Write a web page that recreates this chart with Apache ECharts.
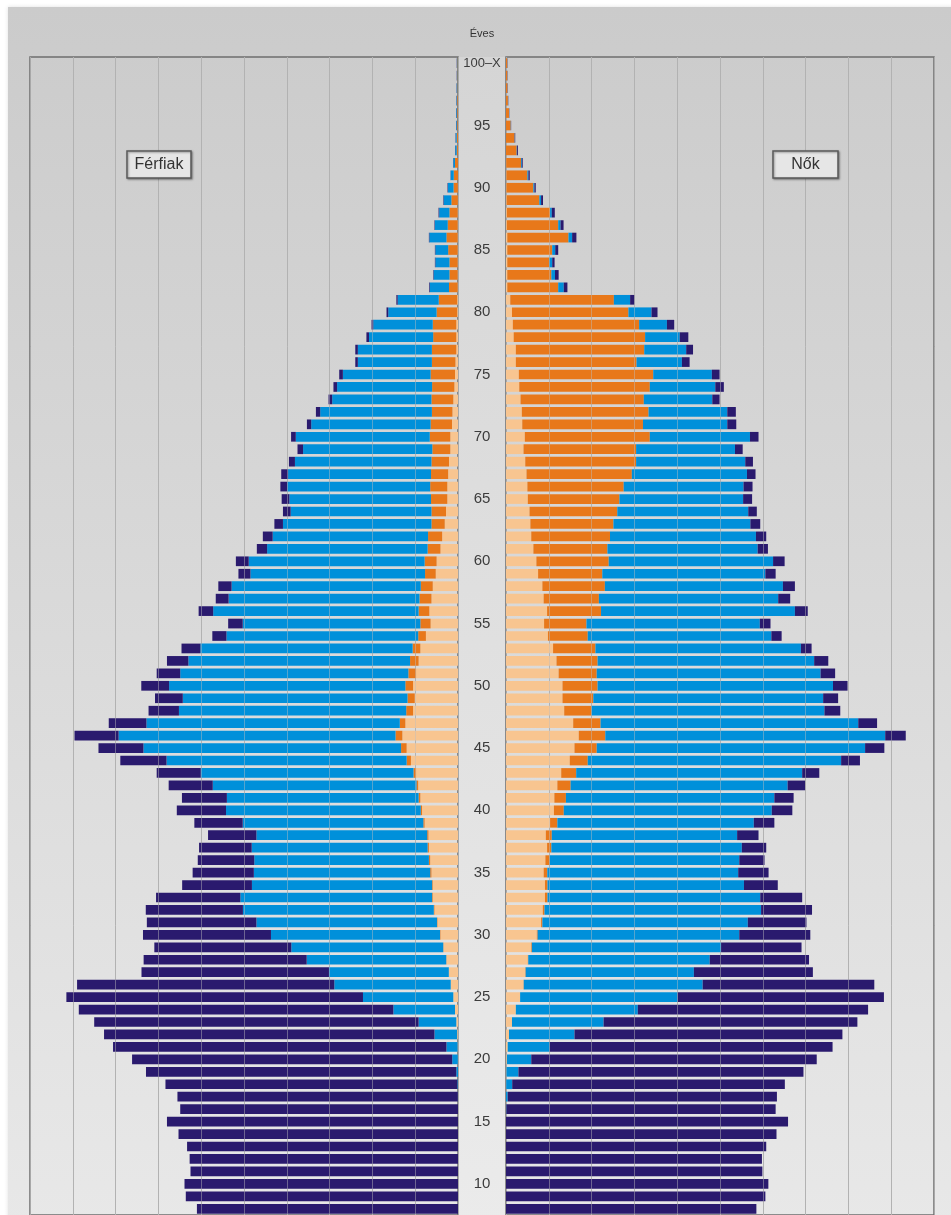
<!DOCTYPE html>
<html>
<head>
<meta charset="utf-8">
<script src="https://cdn.jsdelivr.net/npm/echarts@6/dist/echarts.min.js"></script>
<style>
html,body{margin:0;padding:0;background:#ffffff;overflow:hidden;}
#chart{width:951px;height:1215px;}
</style>
</head>
<body>
<div id="chart"></div>
<script>
// Age categories (bottom of picture is cropped at about age 8)
const ages = ['8','9','10','11','12','13','14','15','16','17',
 '18','19','20','21','22','23','24','25','26','27',
 '28','29','30','31','32','33','34','35','36','37',
 '38','39','40','41','42','43','44','45','46','47',
 '48','49','50','51','52','53','54','55','56','57',
 '58','59','60','61','62','63','64','65','66','67',
 '68','69','70','71','72','73','74','75','76','77',
 '78','79','80','81','82','83','84','85','86','87',
 '88','89','90','91','92','93','94','95','96','97',
 '98','99','100'];

// Férfiak (men), thousand persons, ages 8..100
const menDivorced = [0,0,0,0,0,0,0,0,0,0,
 0,0,0.05,0.1,0.2,0.4,0.7,1.1,1.7,2.1,
 2.7,3.4,4.1,4.8,5.5,5.9,5.9,6.2,6.5,6.8,
 6.9,7.8,8.4,8.8,9.3,9.8,11.0,12.0,13.0,12.3,
 10.5,10.1,10.5,9.8,9.2,8.8,7.5,6.4,6.7,6.2,
 5.9,5.2,5.0,4.1,3.7,3.1,2.8,2.5,2.5,2.3,
 2.1,1.8,1.8,1.4,1.3,1.1,0.85,0.7,0.6,0.4,
 0.4,0.4,0.2,0.2,0.1,0.1,0.1,0.1,0.1,0.1,
 0.1,0.05,0.05,0,0,0,0,0,0,0,
 0,0,0];
const menWidowed = [0,0,0,0,0,0,0,0,0,0,
 0,0,0,0,0,0,0,0,0,0.05,
 0.05,0.05,0.1,0.1,0.15,0.15,0.15,0.3,0.3,0.3,
 0.3,0.3,0.3,0.4,0.4,0.6,1.0,1.3,1.6,1.3,
 1.6,1.7,1.8,1.8,2.0,1.8,1.8,2.4,2.5,2.8,
 2.8,2.5,2.8,3.0,3.3,3.1,3.4,3.8,4.0,4.0,
 4.1,4.2,4.8,5.0,4.8,5.1,5.2,5.7,5.5,5.7,
 5.4,5.5,4.8,4.3,2.0,1.9,1.9,2.2,2.6,2.3,
 1.9,1.5,1.0,1.0,0.7,0.3,0.3,0.2,0.2,0.2,
 0.15,0.15,0.15];
const menMarried = [0,0,0,0,0,0,0,0,0,0.05,
 0.15,0.4,1.3,2.6,5.3,8.8,14.4,21.1,27.2,28.0,
 32.6,35.5,39.5,42.2,44.6,44.8,42.1,41.2,40.8,41.1,
 39.9,42.2,45.5,44.8,47.6,49.7,56.1,60.2,64.7,59.2,
 53.1,52.5,55.2,53.3,51.8,49.6,44.8,41.5,48.0,44.6,
 44.2,40.8,41.1,37.5,36.3,34.7,32.9,33.1,33.4,33.4,
 31.9,30.2,31.3,27.9,26.1,23.2,22.2,20.5,17.3,17.3,
 15.0,13.9,11.3,9.6,4.5,3.7,3.3,3.0,4.0,3.0,
 2.4,1.8,1.3,0.7,0.4,0.35,0.25,0.2,0.2,0.15,
 0.15,0.1,0.1];
const menSingle = [61.0,63.6,63.9,62.5,62.7,63.3,65.3,68.0,64.9,65.5,
 68.2,72.5,74.8,77.9,77.2,75.8,73.5,69.3,60.1,43.8,
 38.1,32.0,29.9,25.6,22.7,19.7,16.3,14.3,13.2,12.3,
 11.3,11.3,11.5,10.5,10.3,10.3,10.8,10.5,10.3,8.8,
 7.1,6.5,6.5,5.5,5.0,4.4,3.3,3.4,3.4,3.0,
 3.1,2.8,3.0,2.4,2.3,2.0,1.8,1.8,1.6,1.6,
 1.4,1.3,1.1,1.0,1.0,0.85,0.85,0.85,0.6,0.6,
 0.6,0.4,0.4,0.3,0.15,0.1,0.1,0.1,0.1,0.1,
 0.14,0.1,0.1,0.05,0.05,0.05,0.05,0.05,0.05,0.05,
 0.05,0.05,0.05];

// Nők (women), thousand persons, ages 8..100
const womenDivorced = [0,0,0,0,0,0,0,0,0,0,
 0.05,0.1,0.2,0.4,0.7,1.4,2.3,3.3,4.1,4.5,
 5.1,5.9,7.2,8.2,8.6,9.1,9.1,8.8,9.2,9.6,
 9.3,10.3,11.2,11.3,12.0,12.9,14.9,16.0,17.0,15.7,
 13.6,13.2,13.2,12.3,11.8,11.0,9.8,8.9,9.6,8.8,
 8.5,7.5,7.1,6.4,5.9,5.7,5.5,5.1,5.0,4.8,
 4.5,4.1,4.4,3.8,3.7,3.4,3.1,3.0,2.3,2.3,
 1.8,1.6,1.4,1.0,0.3,0.3,0.3,0.3,0.3,0.2,
 0.2,0.15,0.1,0.1,0.05,0,0,0,0,0,
 0,0,0];
const womenWidowed = [0,0,0,0,0,0,0,0,0,0,
 0,0,0,0,0,0,0,0,0.05,0.1,
 0.1,0.15,0.2,0.3,0.4,0.6,0.6,0.85,1.0,1.0,
 1.4,1.7,2.3,2.7,3.1,3.5,4.2,5.2,6.2,6.4,
 6.4,7.2,8.2,8.9,9.6,9.9,9.3,9.9,12.6,12.9,
 14.6,15.0,16.9,17.3,18.4,19.4,20.5,21.4,22.5,24.6,
 25.9,26.3,29.2,28.2,29.6,28.8,30.5,31.4,28.2,30.0,
 30.7,29.5,27.2,24.2,11.9,10.3,9.8,10.5,14.3,12.0,
 10.1,7.65,6.3,4.9,3.45,2.5,2.0,1.1,0.7,0.45,
 0.35,0.3,0.3];
const womenMarried = [0,0,0,0,0,0,0,0,0.1,0.4,
 1.4,2.8,5.7,9.8,15.3,21.4,28.5,36.8,41.8,39.3,
 42.4,44.2,47.1,48.0,50.6,49.7,45.9,44.6,44.3,44.5,
 43.3,45.9,48.6,48.7,50.7,52.8,59.2,62.7,65.4,60.2,
 54.4,53.7,55.0,52.3,50.6,48.0,42.9,40.5,45.3,41.9,
 41.6,38.1,38.4,35.1,34.1,32.0,30.6,28.9,28.0,26.9,
 25.5,23.1,23.4,19.7,18.4,16.0,15.3,13.7,10.6,9.8,
 8.1,6.5,5.4,3.8,1.3,0.85,0.7,0.7,0.85,0.55,
 0.4,0.4,0.25,0.25,0.2,0.1,0.05,0.05,0.03,0.03,
 0.02,0.02,0.02];
const womenSingle = [58.5,60.6,61.3,59.9,59.8,60.8,63.2,65.9,62.9,62.9,
 63.7,66.6,66.7,66.1,62.6,59.3,53.8,48.2,40.1,27.8,
 23.2,18.8,16.6,13.7,11.9,9.8,7.9,7.1,5.9,5.7,
 5.0,4.8,4.8,4.5,4.1,4.0,4.4,4.5,4.8,4.4,
 3.7,3.5,3.4,3.4,3.3,2.5,2.4,2.5,3.0,2.8,
 2.8,2.4,2.7,2.4,2.4,2.3,2.0,2.1,2.1,2.0,
 1.8,1.8,2.0,2.1,2.0,1.7,2.0,1.8,1.8,1.6,
 2.0,1.7,1.4,1.0,0.85,0.85,0.55,0.7,1.0,0.7,
 0.7,0.45,0.3,0.3,0.2,0.2,0.1,0.05,0.05,0.05,
 0.05,0.05,0.05];

const xTicks = [10,20,30,40,50,60,70,80,90];

const C_DIV = '#f8c590', C_WID = '#e8781a', C_MAR = '#0090da', C_SIN = '#2a1a6e';
const FONT = "'Liberation Sans Narrow','Liberation Sans',Arial,sans-serif";

const chart = echarts.init(document.getElementById('chart'), null, {renderer:'canvas'});

const gridTop = 57, bandH = 12.5, gridH = ages.length * bandH;

function overlayLines(){
  return {
    silent: true, symbol: ['none','none'], animation: false,
    label: {show:false},
    lineStyle: {color:'rgba(190,190,190,0.45)', width:1, type:'solid'},
    emphasis: {disabled:true},
    data: xTicks.map(v => ({xAxis: v}))
  };
}

function side(idx, div, wid, mar, sin, stack){
  const base = {type:'bar', stack: stack, xAxisIndex: idx, yAxisIndex: idx,
    barCategoryGap:'22%', silent:true, animation:false};
  return [
    Object.assign({}, base, {name:'Elvált', data: div, itemStyle:{color:C_DIV}, markLine: overlayLines()}),
    Object.assign({}, base, {name:'Özvegy', data: wid, itemStyle:{color:C_WID}}),
    Object.assign({}, base, {name:'Házas', data: mar, itemStyle:{color:C_MAR}}),
    Object.assign({}, base, {name:'Nőtlen, hajadon', data: sin, itemStyle:{color:C_SIN}})
  ];
}

const xAxisCommon = {
  type:'value', min:0, max:100, interval:10,
  axisLine:{show:false}, axisTick:{show:false}, axisLabel:{show:false},
  splitLine:{show:true, lineStyle:{color:'#a8a8a8', width:1}}
};

const option = {
  animation:false,
  backgroundColor:'#ffffff',
  graphic:[
    {type:'rect', z:-20, shape:{x:8, y:7, width:960, height:1220},
     style:{fill:new echarts.graphic.LinearGradient(0,0,0,1,[{offset:0,color:'#cbcbcb'},{offset:1,color:'#e8e8e8'}]),
            shadowBlur:4, shadowColor:'rgba(0,0,0,0.12)'}},
    {type:'rect', z:-19, shape:{x:458, y:57, width:48, height:1170},
     style:{fill:new echarts.graphic.LinearGradient(0,0,0,1,[{offset:0,color:'#d5d5d5'},{offset:1,color:'#ebebeb'}])}},
    {type:'text', z:10, x:482, y:34,
     style:{text:'Éves', font:'11px '+FONT, fill:'#333', align:'center', verticalAlign:'middle'}},
    {type:'rect', z:10, shape:{x:127, y:151, width:64, height:27},
     style:{fill:'#e6e6e6', stroke:'#5a5a5a', lineWidth:1.5, shadowBlur:2, shadowOffsetX:1, shadowOffsetY:1, shadowColor:'rgba(0,0,0,0.35)'}},
    {type:'text', z:11, x:159, y:165,
     style:{text:'Férfiak', font:'16px '+FONT, fill:'#333', align:'center', verticalAlign:'middle'}},
    {type:'rect', z:10, shape:{x:773, y:151, width:65, height:27},
     style:{fill:'#e6e6e6', stroke:'#5a5a5a', lineWidth:1.5, shadowBlur:2, shadowOffsetX:1, shadowOffsetY:1, shadowColor:'rgba(0,0,0,0.35)'}},
    {type:'text', z:11, x:805.5, y:165,
     style:{text:'Nők', font:'16px '+FONT, fill:'#333', align:'center', verticalAlign:'middle'}}
  ],
  grid:[
    {left:30, top:gridTop, width:428, height:gridH, show:true, borderColor:'#6e6e6e', borderWidth:1.5, backgroundColor:'transparent'},
    {left:506, top:gridTop, width:428, height:gridH, show:true, borderColor:'#6e6e6e', borderWidth:1.5, backgroundColor:'transparent'}
  ],
  xAxis:[
    Object.assign({}, xAxisCommon, {gridIndex:0, inverse:true}),
    Object.assign({}, xAxisCommon, {gridIndex:1})
  ],
  yAxis:[
    {type:'category', gridIndex:0, data:ages, position:'right',
     axisLine:{show:false}, axisTick:{show:false}, axisLabel:{show:false}, splitLine:{show:false}},
    {type:'category', gridIndex:1, data:ages, position:'left',
     axisLine:{show:false}, axisTick:{show:false}, splitLine:{show:false},
     axisLabel:{show:true, align:'center', margin:24, fontSize:15, fontFamily:FONT, color:'#3c3c3c',
       interval:function(i, v){ return (+v) % 5 === 0; },
       formatter:function(v){ return v === '100' ? '{s|100–X}' : v; },
       rich:{s:{fontSize:13, fontFamily:FONT, color:'#3c3c3c'}}}}
  ],
  series: [].concat(
    side(0, menDivorced, menWidowed, menMarried, menSingle, 'men'),
    side(1, womenDivorced, womenWidowed, womenMarried, womenSingle, 'women')
  )
};
chart.setOption(option);
</script>
</body>
</html>
